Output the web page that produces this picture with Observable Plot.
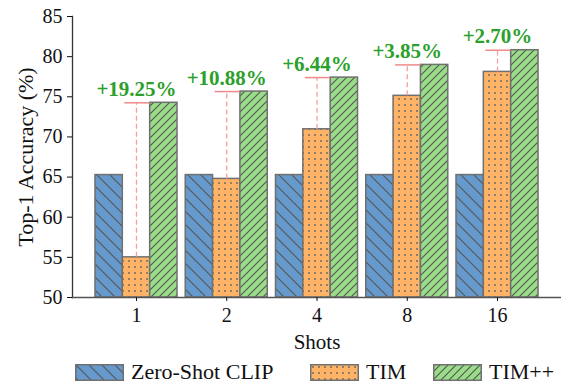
<!DOCTYPE html>
<html>
<head>
<meta charset="utf-8">
<script src="https://cdn.jsdelivr.net/npm/d3@7"></script>
<script src="https://cdn.jsdelivr.net/npm/@observablehq/plot@0.6"></script>
<style>
  body { margin: 0; background: #fff; font-family: "Liberation Serif", "Times New Roman", serif; }
  #chart svg text { font-family: "Liberation Serif", serif !important; }
  #legend { height: 25px; font-size: 22px; color: #111; position: relative; }
  #legend .item { display: flex; align-items: center; position: absolute; top: 1px; }
  #legend svg { margin-right: 7px; }
</style>
</head>
<body>
<svg width="0" height="0" style="position:absolute">
  <defs>
    <pattern id="pZS" patternUnits="userSpaceOnUse" width="13" height="13">
      <rect width="13" height="13" fill="#6699cc"/>
      <path d="M0,0L13,13M-1,12L1,14M12,-1L14,1" stroke="#555" stroke-width="1.1"/>
    </pattern>
    <pattern id="pTIM" patternUnits="userSpaceOnUse" width="6" height="6">
      <rect width="6" height="6" fill="#ffb366"/>
      <circle cx="3" cy="3" r="0.95" fill="#666"/>
    </pattern>
    <pattern id="pTPP" patternUnits="userSpaceOnUse" width="8" height="8">
      <rect width="8" height="8" fill="#99dd88"/>
      <path d="M0,8L8,0M-1,1L1,-1M7,9L9,7" stroke="#555" stroke-width="1.1"/>
    </pattern>
  </defs>
</svg>
<div id="chart"></div>
<div id="legend"></div>
<script>
const shots = ["1", "2", "4", "8", "16"];
const zeroShot = [65.25, 65.25, 65.25, 65.25, 65.25];
const tim = [55.0, 64.77, 70.95, 75.12, 78.1];
const timpp = [74.25, 75.65, 77.39, 78.97, 80.8];
const gains = ["+19.25%", "+10.88%", "+6.44%", "+3.85%", "+2.70%"];
const seriesNames = ["Zero-Shot CLIP", "TIM", "TIM++"];
const seriesFills = ["url(#pZS)", "url(#pTIM)", "url(#pTPP)"];
const yTicks = [50, 55, 60, 65, 70, 75, 80, 85];

const rows = shots.map((s, i) => ({shot: s, zs: zeroShot[i], tim: tim[i], timpp: timpp[i], gain: gains[i]}));

const W = 561, H = 358, mL = 72, mR = 0, mT = 16, mB = 61;
const pI = 0.091, pO = 0.2545;
const step = (W - mL - mR) / (shots.length - pI + 2 * pO);
const third = step * (1 - pI) / 3;
const font = "Liberation Serif";
const edge = "#707070";

const chart = Plot.plot({
  width: W, height: H,
  marginLeft: mL, marginRight: mR, marginTop: mT, marginBottom: mB,
  style: {fontFamily: font, fontSize: "20px", color: "#111", background: "#fff"},
  x: {domain: shots, paddingInner: pI, paddingOuter: pO, round: false},
  y: {domain: [50, 85]},
  marks: [
    Plot.barY(rows, {x: "shot", y1: 50, y2: "zs", fill: seriesFills[0], stroke: edge, strokeWidth: 1.5, insetRight: 2 * third}),
    Plot.barY(rows, {x: "shot", y1: 50, y2: "tim", fill: seriesFills[1], stroke: edge, strokeWidth: 1.5, insetLeft: third, insetRight: third}),
    Plot.barY(rows, {x: "shot", y1: 50, y2: "timpp", fill: seriesFills[2], stroke: edge, strokeWidth: 1.5, insetLeft: 2 * third}),
    Plot.ruleX(rows, {x: "shot", y1: "tim", y2: "timpp", stroke: "#f4a0a0", strokeWidth: 1.3, strokeDasharray: "5,3"}),
    Plot.tickY(rows, {x: "shot", y: "timpp", stroke: "#f08a8a", strokeWidth: 1.5, insetLeft: third + 2, insetRight: third}),
    Plot.text(rows, {x: "shot", y: "timpp", text: "gain", dy: -7, lineAnchor: "bottom", fill: "#2ca02c", fontSize: 21, fontWeight: "bold", fontFamily: font}),
    Plot.frame({anchor: "left", stroke: "#333", strokeWidth: 1.3}),
    Plot.frame({anchor: "bottom", stroke: "#555", strokeWidth: 1.5}),
    Plot.axisY({ticks: yTicks, tickSize: 5, tickPadding: 5, fontSize: 20, fontFamily: font, label: null}),
    Plot.axisY({ticks: [], tickSize: 0, fontSize: 22, fontFamily: font, label: "Top-1 Accuracy (%)", labelArrow: "none", labelAnchor: "center", labelOffset: 55}),
    Plot.axisX({tickSize: 4, tickPadding: 6, fontSize: 20, fontFamily: font, label: null}),
    Plot.axisX({ticks: [], tickSize: 0, fontSize: 21, fontFamily: font, label: "Shots", labelArrow: "none", labelAnchor: "center", labelOffset: 51})
  ]
});
document.getElementById("chart").appendChild(chart);

const legend = document.getElementById("legend");
const lefts = [75, 310, 433];
seriesNames.forEach((name, i) => {
  const item = document.createElement("div");
  item.className = "item";
  item.style.left = lefts[i] + "px";
  item.innerHTML = `<svg width="49" height="17"><rect x="0.75" y="0.75" width="47.5" height="15.5" fill="${seriesFills[i]}" stroke="${edge}" stroke-width="1.5"/></svg><span>${name}</span>`;
  legend.appendChild(item);
});
</script>
</body>
</html>
